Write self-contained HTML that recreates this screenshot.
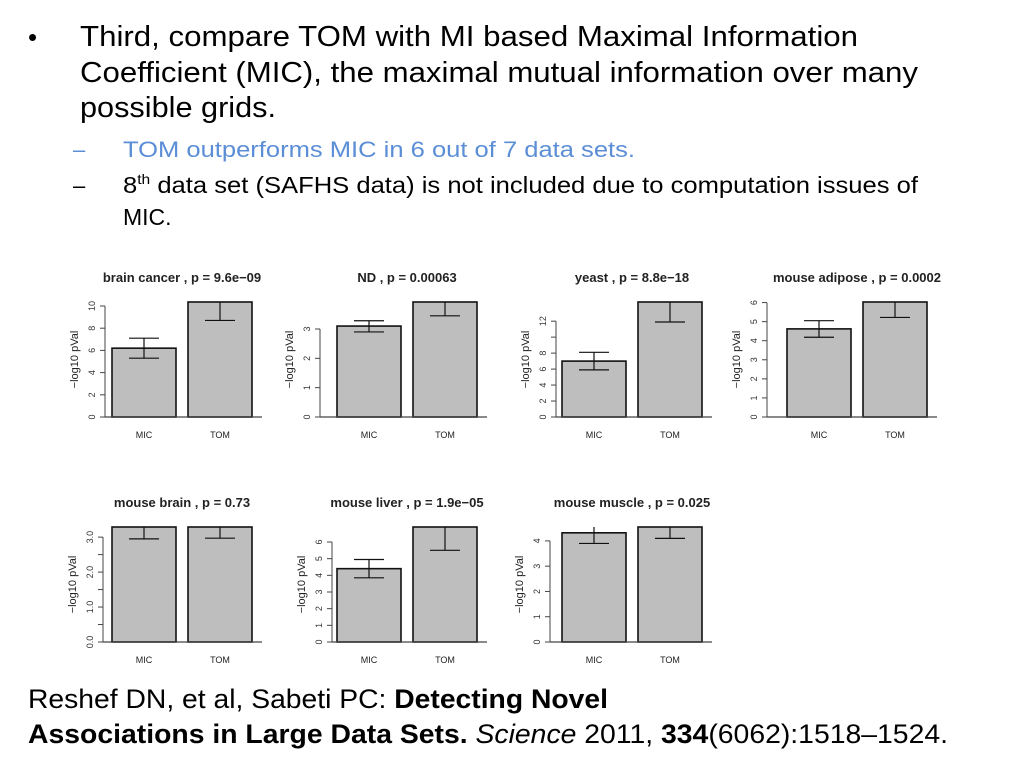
<!DOCTYPE html>
<html><head><meta charset="utf-8"><style>
html,body{margin:0;padding:0;background:#fff;}
svg{display:block;font-family:"Liberation Sans",Arial,sans-serif;}
</style></head><body>
<svg id="s" width="1024" height="768" viewBox="0 0 1024 768">
<g fill="#000">
<text x="28" y="46" font-size="26">•</text>
<text x="80" y="46" font-size="29" textLength="778" lengthAdjust="spacingAndGlyphs">Third, compare TOM with MI based Maximal Information</text>
<text x="80" y="82" font-size="29" textLength="838" lengthAdjust="spacingAndGlyphs">Coefficient (MIC), the maximal mutual information over many</text>
<text x="80" y="117" font-size="29" textLength="196" lengthAdjust="spacingAndGlyphs">possible grids.</text>
<text x="73" y="157" font-size="22" fill="#5b8ed6">–</text>
<text x="123" y="157" font-size="22" fill="#5b8ed6" textLength="512" lengthAdjust="spacingAndGlyphs">TOM outperforms MIC in 6 out of 7 data sets.</text>
<text x="73" y="193" font-size="22">–</text>
<text x="123" y="193" font-size="23" textLength="795" lengthAdjust="spacingAndGlyphs"><tspan>8</tspan><tspan font-size="14" dy="-9">th</tspan><tspan dy="9"> data set (SAFHS data) is not included due to computation issues of</tspan></text>
<text x="123" y="225" font-size="23">MIC.</text>
</g>
<g font-size="27">
<text x="28" y="708" textLength="580" lengthAdjust="spacingAndGlyphs">Reshef DN, et al, Sabeti PC: <tspan font-weight="bold">Detecting Novel</tspan></text>
<text x="28" y="743" textLength="920" lengthAdjust="spacingAndGlyphs"><tspan font-weight="bold">Associations in Large Data Sets.</tspan> <tspan font-style="italic">Science</tspan> 2011, <tspan font-weight="bold">334</tspan>(6062):1518–1524.</text>
</g>
<g id="charts"></g>
</svg>
<script>
const titles = ["brain cancer , p = 9.6e\u221209","ND , p = 0.00063","yeast , p = 8.8e\u221218","mouse adipose , p = 0.0002","mouse brain , p = 0.73","mouse liver , p = 1.9e\u221205","mouse muscle , p = 0.025"];
const categories = ["MIC","TOM"];
const micValues = [6.2, 3.1, 7.0, 4.62, 3.29, 4.4, 4.32];
const tomValues = [10.4, 3.95, 14.5, 6.1, 3.29, 6.9, 4.6];
const micLow = [5.3, 2.9, 5.9, 4.18, 2.95, 3.85, 3.9];
const micHigh = [7.1, 3.28, 8.1, 5.05, 3.6, 4.95, 4.8];
const tomLow = [8.7, 3.45, 11.9, 5.22, 2.97, 5.5, 4.1];
const tomHigh = [11.5, 4.5, 16.5, 6.9, 3.6, 7.9, 5.0];
const yMax = [10.36, 3.92, 14.4, 6.03, 3.29, 6.9, 4.55];
const tickValues = [[0,2,4,6,8,10],[0,1,2,3],[0,2,4,6,8,10,12],[0,1,2,3,4,5,6],[0,0.5,1,1.5,2,2.5,3],[0,1,2,3,4,5,6],[0,1,2,3,4]];
const tickLabels = [["0","2","4","6","8","10"],["0","1","2","3"],["0","2","4","6","8","","12"],["0","1","2","3","4","5","6"],["0.0","","1.0","","2.0","","3.0"],["0","1","2","3","4","5","6"],["0","1","2","3","4"]];

const layout = [
 {ax:105,b1:112,b2:188,bw:64,top:302,bot:417},
 {ax:320,b1:337,b2:413,bw:64,top:302,bot:417},
 {ax:556,b1:562,b2:638,bw:64,top:302,bot:417},
 {ax:767,b1:787,b2:863,bw:64,top:302,bot:417},
 {ax:103,b1:112,b2:188,bw:64,top:527,bot:642},
 {ax:332,b1:337,b2:413,bw:64,top:527,bot:642},
 {ax:550,b1:562,b2:638,bw:64,top:527,bot:642}
];
const NS="http://www.w3.org/2000/svg";
const root=document.getElementById('charts');
function mk(tag,attrs,parent){const e=document.createElementNS(NS,tag);for(const k in attrs)e.setAttribute(k,attrs[k]);parent.appendChild(e);return e;}

titles.forEach((t,i)=>{
  const L=layout[i];
  const g=mk('g',{},root);
  
  
  const y=v=>L.bot-(v/yMax[i])*(L.bot-L.top);
  const cy=v=>Math.max(L.top,y(v));
  const cx=(L.b1+L.b2+L.bw)/2;
  const tt=mk('text',{x:cx,y:L.top-20,'font-size':13,'font-weight':'bold','text-anchor':'middle',fill:'#222'},g);
  tt.textContent=t;
  
  
  const vals=[micValues[i],tomValues[i]], lo=[micLow[i],tomLow[i]], hi=[micHigh[i],tomHigh[i]], bx=[L.b1,L.b2];
  for(let k=0;k<2;k++){
    const top=cy(vals[k]);
    const r=mk('rect',{x:bx[k],y:top,width:L.bw,height:L.bot-top,fill:'#bebebe',stroke:'#111','stroke-width':1.6},g);
    
    
    const mx=bx[k]+L.bw/2;
    const e=mk('path',{d:`M${mx},${cy(hi[k])}V${cy(lo[k])}`+(y(hi[k])>=L.top?`M${mx-15},${y(hi[k])}h30`:'')+`M${mx-15},${y(lo[k])}h30`,stroke:'#111','stroke-width':1.2,fill:'none'},g);
    
    
    const c=mk('text',{x:mx,y:L.bot+21,'font-size':9,'text-anchor':'middle',fill:'#222'},g);
    c.textContent=categories[k];
    
    
  }
  const base=mk('line',{x1:L.ax,x2:L.b2+L.bw+10,y1:L.bot,y2:L.bot,stroke:'#444','stroke-width':1.2},g);
  
  
  const tv=tickValues[i];
  const al=mk('line',{x1:L.ax,x2:L.ax,y1:y(tv[0]),y2:y(tv[tv.length-1]),stroke:'#444','stroke-width':1},g);
  
  
  tv.forEach((v,j)=>{
    const tk=mk('line',{x1:L.ax-5,x2:L.ax,y1:y(v),y2:y(v),stroke:'#444','stroke-width':1},g);
    
    
    if(tickLabels[i][j]){
      const lx=L.ax-10,ly=y(v);
      const tl=mk('text',{x:lx,y:ly,'font-size':9,'text-anchor':'middle',fill:'#333',transform:`rotate(-90 ${lx} ${ly})`},g);
      tl.textContent=tickLabels[i][j];
      
      
    }
  });
  const yx=L.ax-27, yy=(L.top+L.bot)/2;
  const yl=mk('text',{x:yx,y:yy,'font-size':11,'text-anchor':'middle',fill:'#222',transform:`rotate(-90 ${yx} ${yy})`},g);
  yl.textContent='\u2212log10 pVal';
  
  
});
</script>
</body></html>
